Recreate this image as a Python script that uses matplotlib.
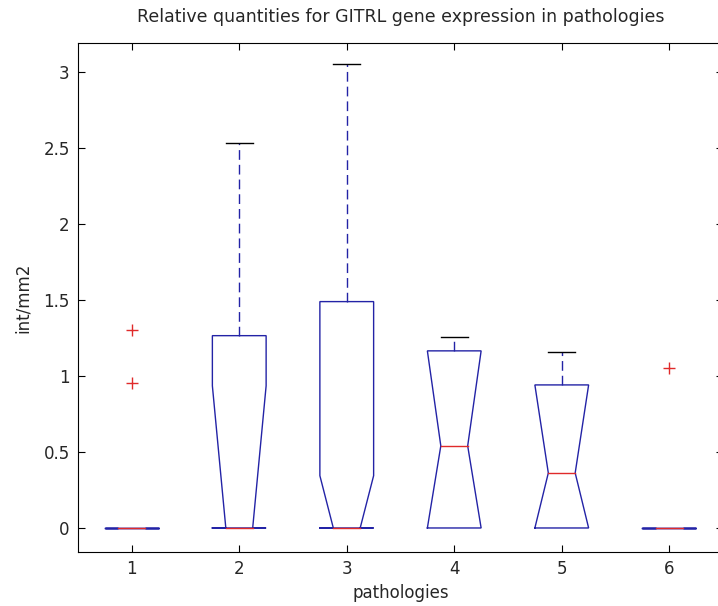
#GITRL relative quantities, notched boxplot per pathology
import matplotlib
matplotlib.use('Agg')
import matplotlib.pyplot as plt

plt.rcParams['font.family'] = ['DejaVu Sans']

#box statistics (per pathology)
groups = [1, 2, 3, 4, 5, 6]
q1 = [0, 0, 0, 0, 0, 0]
median = [0, 0, 0, 0.54, 0.362, 0]
q3 = [0, 1.265, 1.489, 1.165, 0.941, 0]
notch_lo = [0, 0, 0, 0, 0, 0]
notch_hi = [0, 0.935, 0.344, 1.165, 0.941, 0]
whisker_lo = [0, 0, 0, 0, 0, 0]
whisker_hi = [0, 2.53, 3.05, 1.254, 1.156, 0]
outliers = [[1.305, 0.956], [], [], [], [], [1.05]]

yticks = [0, 0.5, 1, 1.5, 2, 2.5, 3]
ytick_labels = ['0', '0.5', '1', '1.5', '2', '2.5', '3']

blue = '#2323a6'
red = '#e02a2a'
text_col = '#262626'


def draw_box(ax, i):
    x = groups[i]
    w = 0.25
    wn = 0.125
    # whiskers + caps (skipped when they have no length)
    if whisker_hi[i] > q3[i]:
        ax.plot([x, x], [q3[i], whisker_hi[i]], color=blue, lw=1.0, linestyle=(0, (7, 3.6)))
        ax.plot([x - wn, x + wn], [whisker_hi[i]] * 2, color='black', lw=1.0)
    if whisker_lo[i] < q1[i]:
        ax.plot([x, x], [q1[i], whisker_lo[i]], color=blue, lw=1.0, linestyle=(0, (7, 3.6)))
        ax.plot([x - wn, x + wn], [whisker_lo[i]] * 2, color='black', lw=1.0)
    xs = [x - w, x - w, x - wn, x - w, x - w, x + w, x + w, x + wn, x + w, x + w, x - w]
    ys = [q1[i], notch_lo[i], median[i], notch_hi[i], q3[i], q3[i],
          notch_hi[i], median[i], notch_lo[i], q1[i], q1[i]]
    ax.plot(xs, ys, color=blue, lw=1.0, solid_joinstyle='miter')
    # median
    ax.plot([x - wn, x + wn], [median[i]] * 2, color=red, lw=1.0)
    for o in outliers[i]:
        ax.plot(x, o, marker='+', color=red, markersize=9, markeredgewidth=1.0)


fig = plt.figure(figsize=(7.18, 6.06), dpi=100)
ax = fig.add_axes([78 / 718, 54 / 606, 645 / 718, 509 / 606])

for i in range(len(groups)):
    draw_box(ax, i)

ax.set_xlim(0.5, 6.5)
ax.set_ylim(-0.158, 3.19)
ax.set_xticks(groups)
ax.set_xticklabels([str(g) for g in groups])
ax.set_yticks(yticks)
ax.set_yticklabels(ytick_labels)
ax.tick_params(direction='in', length=5, width=0.8, top=True, right=True,
               labelsize=12, colors='black', labelcolor=text_col, pad=6)
for s in ax.spines.values():
    s.set_linewidth(0.8)

ax.set_title('Relative quantities for GITRL gene expression in pathologies',
             fontsize=12.5, pad=15, color=text_col)
ax.set_xlabel('pathologies', fontsize=12, color=text_col, labelpad=4)
ax.set_ylabel('int/mm2', fontsize=12, color=text_col, labelpad=8)

fig.savefig('out.png', dpi=100)
